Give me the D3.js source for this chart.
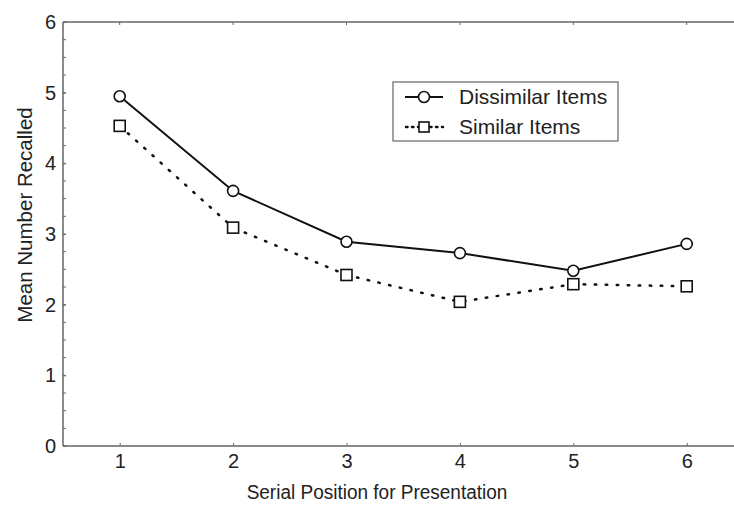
<!DOCTYPE html>
<html><head><meta charset="utf-8">
<script src="https://cdn.jsdelivr.net/npm/d3@7"></script>
<style>body{margin:0;background:#fff}svg{display:block}text{font-family:"Liberation Sans",Arial,sans-serif;fill:#222}</style>
</head><body><svg id="c" width="734" height="508"></svg>
<script>
const positions = [1, 2, 3, 4, 5, 6];
const dissimilar = [4.95, 3.61, 2.89, 2.73, 2.48, 2.86];
const similar = [4.53, 3.09, 2.42, 2.04, 2.29, 2.26];
const yTicks = [0, 1, 2, 3, 4, 5, 6];
const seriesNames = ["Dissimilar Items", "Similar Items"];

const svg = d3.select("#c");
const L = 63, T = 22, B = 446;
const x = d3.scaleLinear().domain([0.5, 6.5]).range([L, L + 6 * 113.4]);
const y = d3.scaleLinear().domain([0, 6]).range([B, T]);
const axisCol = "#666";

// frame lines
svg.append("line").attr("x1", L).attr("x2", 734).attr("y1", B).attr("y2", B).attr("stroke", axisCol).attr("stroke-width", 1.5);
svg.append("line").attr("x1", L).attr("x2", 734).attr("y1", T).attr("y2", T).attr("stroke", axisCol).attr("stroke-width", 1.5);
svg.append("line").attr("x1", L).attr("x2", L).attr("y1", T).attr("y2", B).attr("stroke", axisCol).attr("stroke-width", 1.5);

// y axis
const yAx = svg.append("g").attr("transform", `translate(${L},0)`)
  .call(d3.axisLeft(y).tickValues(yTicks).tickSize(-3).tickPadding(7).tickFormat(d3.format("d")));
yAx.select(".domain").remove();
yAx.selectAll("line").attr("stroke", axisCol);
yAx.selectAll("text").style("font-size", "20px").attr("fill", "#222");
const minor = d3.range(0, 6.01, 0.25);
svg.append("g").selectAll("line").data(minor).join("line")
  .attr("x1", L).attr("x2", L + 3).attr("y1", d => y(d)).attr("y2", d => y(d)).attr("stroke", axisCol);

// x axis
const xAx = svg.append("g").attr("transform", `translate(0,${B})`)
  .call(d3.axisBottom(x).tickValues(positions).tickSize(-3).tickPadding(8).tickFormat(d3.format("d")));
xAx.select(".domain").remove();
xAx.selectAll("line").attr("stroke", axisCol);
xAx.selectAll("text").style("font-size", "20px").attr("fill", "#222");
svg.append("g").selectAll("line").data(positions).join("line")
  .attr("x1", d => x(d)).attr("x2", d => x(d)).attr("y1", T).attr("y2", T + 3).attr("stroke", axisCol);

// labels
svg.append("text").attr("transform", "translate(377,499) scale(1,1.08)").attr("text-anchor", "middle").style("font-size", "19px").text("Serial Position for Presentation");
svg.append("text").attr("transform", "translate(32,215) rotate(-90)").attr("text-anchor", "middle").style("font-size", "20.5px").text("Mean Number Recalled");

// lines
const line = d3.line().x((d, i) => x(positions[i])).y(d => y(d));
svg.append("path").datum(dissimilar).attr("d", line).attr("fill", "none").attr("stroke", "#111").attr("stroke-width", 2);
svg.append("path").datum(similar).attr("d", line).attr("fill", "none").attr("stroke", "#111").attr("stroke-width", 2.5).attr("stroke-dasharray", "1.5,9.5").attr("stroke-linecap", "round");

svg.append("g").selectAll("circle").data(dissimilar).join("circle")
  .attr("cx", (d, i) => x(positions[i])).attr("cy", d => y(d)).attr("r", 5.5)
  .attr("fill", "#fff").attr("stroke", "#111").attr("stroke-width", 1.6);
const s = 11;
svg.append("g").selectAll("rect").data(similar).join("rect")
  .attr("x", (d, i) => x(positions[i]) - s / 2).attr("y", d => y(d) - s / 2).attr("width", s).attr("height", s)
  .attr("fill", "#fff").attr("stroke", "#111").attr("stroke-width", 1.6);

// legend
const lg = svg.append("g");
lg.append("rect").attr("x", 393).attr("y", 82).attr("width", 225).attr("height", 59).attr("fill", "#fff").attr("stroke", "#666").attr("stroke-width", 1.2);
lg.append("line").attr("x1", 405).attr("x2", 443).attr("y1", 97).attr("y2", 97).attr("stroke", "#111").attr("stroke-width", 2);
lg.append("circle").attr("cx", 424).attr("cy", 97).attr("r", 5.5).attr("fill", "#fff").attr("stroke", "#111").attr("stroke-width", 1.6);
lg.append("line").attr("x1", 406).attr("x2", 443).attr("y1", 127).attr("y2", 127).attr("stroke", "#111").attr("stroke-width", 2.5).attr("stroke-dasharray", "1.5,4.5").attr("stroke-linecap", "round");
lg.append("rect").attr("x", 419).attr("y", 122).attr("width", 10).attr("height", 10).attr("fill", "#fff").attr("stroke", "#111").attr("stroke-width", 1.6);
lg.append("text").attr("x", 459).attr("y", 104).style("font-size", "21px").text(seriesNames[0]);
lg.append("text").attr("x", 459).attr("y", 134).style("font-size", "21px").text(seriesNames[1]);
</script></body></html>
